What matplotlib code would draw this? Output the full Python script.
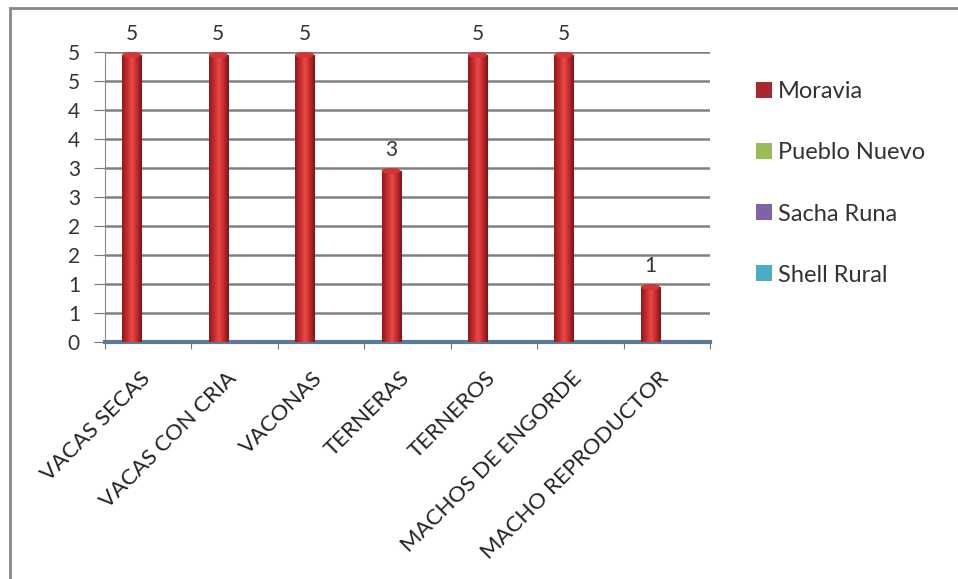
import numpy as np
import matplotlib.pyplot as plt
from matplotlib.colors import LinearSegmentedColormap
from matplotlib.patches import Rectangle, Patch, Ellipse

plt.rcParams['font.family'] = ['Lato', 'DejaVu Sans']

categories = ['VACAS SECAS', 'VACAS CON CRIA', 'VACONAS', 'TERNERAS',
              'TERNEROS', 'MACHOS DE ENGORDE', 'MACHO REPRODUCTOR']
series = ['Moravia', 'Pueblo Nuevo', 'Sacha Runa', 'Shell Rural']
moravia = [5, 5, 5, 3, 5, 5, 1]
pueblo_nuevo = [0, 0, 0, 0, 0, 0, 0]
sacha_runa = [0, 0, 0, 0, 0, 0, 0]
shell_rural = [0, 0, 0, 0, 0, 0, 0]
values = [moravia, pueblo_nuevo, sacha_runa, shell_rural]

legend_colors = ['#A8282C', '#9BBB59', '#8064A2', '#4BACC6']
yticks = np.arange(0, 5.01, 0.5)
ytick_labels = ['0', '1', '1', '2', '2', '3', '3', '4', '4', '5', '5']

fig = plt.figure(figsize=(9.58, 5.79), dpi=100)
ax = fig.add_axes([105 / 958, 1 - 342 / 579, 605 / 958, 290 / 579])

red = LinearSegmentedColormap.from_list(
    'cyl', ['#8E1A1C', '#C42A2C', '#E84A48', '#C42A2C', '#7E1416'])
grad = np.linspace(0, 1, 64).reshape(1, -1)

x = np.arange(len(categories))
w = 0.22
cap = 0.1
offsets = [-0.19, 0.0, 0.19, 0.38]
for s, vals in enumerate(values):
    for xi, v in zip(x, vals):
        x0 = xi + offsets[s] - w / 2
        if v > 0:
            rect = Rectangle((x0, 0), w, v - cap / 2, facecolor='none', edgecolor='none')
            ax.add_patch(rect)
            im = ax.imshow(grad, extent=[x0, x0 + w, 0, v - cap / 2], aspect='auto',
                           cmap=red, zorder=3)
            im.set_clip_path(rect)
            ax.add_patch(Ellipse((xi + offsets[s], v - cap / 2), w, cap,
                                 facecolor='#D23536', edgecolor='none', zorder=4))
            ax.text(xi + offsets[s], v + 0.14, str(v), ha='center', va='bottom',
                    fontsize=15, color='#333333')

ax.set_xlim(-0.5, len(categories) - 0.5)
ax.set_ylim(0, 5)
ax.set_yticks(yticks)
ax.set_yticklabels(ytick_labels, fontsize=15, color='#333333')
ax.yaxis.grid(True, color='#808080', linewidth=1.8)
ax.set_axisbelow(True)
ax.set_xticks(np.arange(-0.5, len(categories), 1))
ax.set_xticklabels([])

# category labels, rotated like Excel does it
bar_x = x + offsets[0]
for bx, name in zip(bar_x, categories):
    ax.annotate(name, xy=(bx, 0), xycoords=('data', 'axes fraction'),
                xytext=(15, -33), textcoords='offset pixels',
                rotation=45, rotation_mode='anchor', ha='right', va='center',
                fontsize=16, color='#222222', annotation_clip=False)

ax.tick_params(axis='x', length=5, color='#777777', direction='out')
ax.tick_params(axis='y', length=8, color='#777777', pad=10)
for side in ['top', 'right']:
    ax.spines[side].set_visible(False)
ax.spines['left'].set_color('#888888')
ax.spines['bottom'].set_color('#5A7A96')
ax.spines['bottom'].set_linewidth(3)

handles = [Patch(facecolor=c, edgecolor='none') for c in legend_colors]
fig.legend(handles, series, loc='upper left', bbox_to_anchor=(735 / 958, 1 - 60 / 579),
           frameon=False, fontsize=17, handlelength=0.65, handleheight=0.65,
           handletextpad=0.25, labelspacing=1.7, labelcolor='#333333')

fig.patches.append(Rectangle((10 / 958, -0.1), 1.2, (579 - 8) / 579 + 0.1,
                             transform=fig.transFigure, fill=False,
                             edgecolor='#888888', linewidth=2))

fig.savefig('out.png', dpi=100)
